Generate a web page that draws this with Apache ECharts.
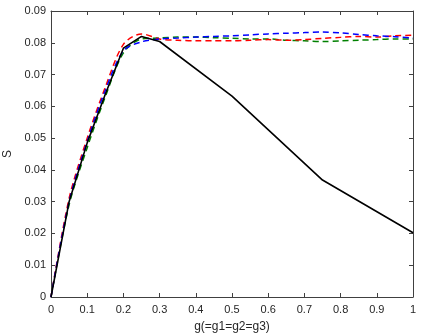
<!DOCTYPE html>
<html>
<head>
<meta charset="utf-8">
<script src="https://cdn.jsdelivr.net/npm/echarts@6/dist/echarts.min.js"></script>
<style>
html, body { margin: 0; padding: 0; background: #fff; }
#chart { width: 423px; height: 336px; }
</style>
</head>
<body>
<div id="chart"></div>
<script>
// g values of the curves
const gSolid = [0, 0.05, 0.1, 0.15, 0.2, 0.25, 0.3, 0.5, 0.75, 1]
const sSolid = [0, 0.030, 0.0485, 0.0638, 0.0783, 0.0820, 0.0804, 0.0632, 0.0368, 0.0202]

const gDash = [0, 0.05, 0.1, 0.15, 0.2, 0.25, 0.3, 0.35, 0.4, 0.45, 0.5,
  0.55, 0.6, 0.65, 0.7, 0.75, 0.8, 0.85, 0.9, 0.95, 1]
const sBlue = [0, 0.030, 0.049, 0.065, 0.0775, 0.0803, 0.0812, 0.0815, 0.0818, 0.0820, 0.0822,
  0.0825, 0.0828, 0.0830, 0.0832, 0.0834, 0.0831, 0.0826, 0.0822, 0.0819, 0.0815]
const sRed = [0, 0.031, 0.050, 0.066, 0.0795, 0.0828, 0.0812, 0.0808, 0.0806, 0.0806, 0.0806,
  0.0808, 0.0810, 0.0808, 0.0810, 0.0814, 0.0817, 0.0820, 0.0818, 0.0822, 0.0824]
const sGreen = [0, 0.029, 0.047, 0.063, 0.0768, 0.0812, 0.0815, 0.0818, 0.0818, 0.0816, 0.0814,
  0.0812, 0.0812, 0.0808, 0.0806, 0.0804, 0.0806, 0.0808, 0.0810, 0.0812, 0.0812]

const xTicks = ['0', '0.1', '0.2', '0.3', '0.4', '0.5', '0.6', '0.7', '0.8', '0.9', '1']
const yTicks = ['0', '0.01', '0.02', '0.03', '0.04', '0.05', '0.06', '0.07', '0.08', '0.09']

const pair = (xs, ys) => xs.map((x, i) => [x, ys[i]])

const axisGray = '#404040'
const font = 'Liberation Sans, Arial, sans-serif'

const chart = echarts.init(document.getElementById('chart'))

const baseAxis = {
  type: 'value',
  axisLine: { show: true, onZero: false, lineStyle: { color: axisGray, width: 1 } },
  axisTick: { show: true, inside: true, length: 4, lineStyle: { color: axisGray } },
  splitLine: { show: false }
}

chart.setOption({
  animation: false,
  grid: { left: 51, right: 10, top: 11, bottom: 39, outerBoundsMode: 'none', containLabel: false },
  xAxis: [
    Object.assign({}, baseAxis, {
      min: 0, max: 1, interval: 0.1,
      name: 'g(=g1=g2=g3)',
      nameLocation: 'middle',
      nameGap: 24,
      nameTextStyle: { color: '#262626', fontSize: 12, fontFamily: font },
      axisLabel: {
        color: '#262626', fontSize: 11, fontFamily: font, margin: 7,
        formatter: (v) => xTicks[Math.round(v * 10)]
      }
    }),
    Object.assign({}, baseAxis, {
      position: 'top', min: 0, max: 1, interval: 0.1,
      axisLabel: { show: false }
    })
  ],
  yAxis: [
    Object.assign({}, baseAxis, {
      min: 0, max: 0.09, interval: 0.01,
      name: 'S',
      nameLocation: 'middle',
      nameGap: 36,
      nameRotate: 90,
      nameTextStyle: { color: '#262626', fontSize: 12, fontFamily: font },
      axisLabel: {
        color: '#262626', fontSize: 11, fontFamily: font, margin: 5,
        formatter: (v) => yTicks[Math.round(v * 100)]
      }
    }),
    Object.assign({}, baseAxis, {
      position: 'right', min: 0, max: 0.09, interval: 0.01,
      axisLabel: { show: false }
    })
  ],
  series: [
    {
      type: 'line', data: pair(gSolid, sSolid), showSymbol: false,
      lineStyle: { color: '#000', width: 1.6 }, z: 5
    },
    {
      type: 'line', data: pair(gDash, sGreen), showSymbol: false, smooth: 0.3,
      lineStyle: { color: '#008000', width: 1.5, type: [6, 4] }, z: 3
    },
    {
      type: 'line', data: pair(gDash, sRed), showSymbol: false, smooth: 0.3,
      lineStyle: { color: '#ff0000', width: 1.5, type: [6, 4] }, z: 3
    },
    {
      type: 'line', data: pair(gDash, sBlue), showSymbol: false, smooth: 0.3,
      lineStyle: { color: '#0000ff', width: 1.5, type: [6, 4] }, z: 3
    }
  ]
})
</script>
</body>
</html>
